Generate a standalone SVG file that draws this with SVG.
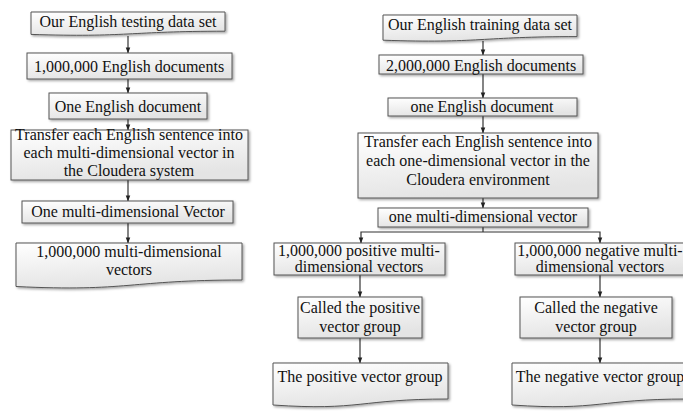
<svg xmlns="http://www.w3.org/2000/svg" width="683" height="411" viewBox="0 0 683 411">
  <defs>
    <linearGradient id="boxFill" x1="0" y1="0" x2="0.3" y2="1">
      <stop offset="0" stop-color="#ffffff"/>
      <stop offset="1" stop-color="#e4e4e4"/>
    </linearGradient>
    <filter id="shadow" x="-10%" y="-20%" width="120%" height="150%">
      <feDropShadow dx="1.5" dy="1.5" stdDeviation="0.8" flood-color="#000" flood-opacity="0.35"/>
    </filter>
    <marker id="arrow" viewBox="0 0 8 8" refX="7.5" refY="4" markerWidth="6" markerHeight="6" orient="auto" markerUnits="userSpaceOnUse">
      <path d="M0,1 L8,4 L0,7 Z" fill="#222"/>
    </marker>
  </defs>
  <style>
    .box { fill: url(#boxFill); stroke: #555; stroke-width: 1; filter: url(#shadow); }
    .lbl { font-family: "Liberation Serif", "Times New Roman", serif; font-size: 16px; fill: #111; text-anchor: middle; }
    .edge { fill: none; stroke: #333; stroke-width: 1.2; }
    .arr { marker-end: url(#arrow); }
  </style>

  <!-- connectors -->
  <g id="connectors">
    <line class="edge arr" x1="128" y1="36" x2="128" y2="53"/>
    <line class="edge arr" x1="128" y1="79" x2="128" y2="93"/>
    <line class="edge arr" x1="128" y1="119" x2="128" y2="130"/>
    <line class="edge arr" x1="128" y1="180" x2="128" y2="201"/>
    <line class="edge arr" x1="128" y1="223" x2="128" y2="243"/>

    <line class="edge arr" x1="483" y1="41" x2="483" y2="55"/>
    <line class="edge arr" x1="483" y1="74" x2="483" y2="98"/>
    <line class="edge arr" x1="483" y1="116" x2="483" y2="133"/>
    <line class="edge arr" x1="483" y1="198" x2="483" y2="208"/>
    <polyline class="edge" points="483,227 483,232"/>
    <polyline class="edge arr" points="483,232 361,232 361,243"/>
    <polyline class="edge arr" points="483,232 600,232 600,243"/>
    <line class="edge arr" x1="360" y1="275" x2="360" y2="297"/>
    <line class="edge arr" x1="600" y1="275" x2="600" y2="297"/>
    <line class="edge arr" x1="360" y1="338" x2="360" y2="363"/>
    <line class="edge arr" x1="600" y1="338" x2="600" y2="363"/>
  </g>

  <!-- testing branch -->
  <g id="test-dataset">
    <path class="box" d="M31,12 H225 V31.2 C128,31.2 128,37.5 31,34.4 Z"/>
    <text class="lbl" x="128" y="27">Our English testing data set</text>
  </g>
  <g id="test-documents">
    <rect class="box" x="27" y="53" width="205" height="26"/>
    <text class="lbl" x="129" y="72">1,000,000 English documents</text>
  </g>
  <g id="test-one-document">
    <rect class="box" x="49" y="93" width="158" height="26"/>
    <text class="lbl" x="128" y="112">One English document</text>
  </g>
  <g id="test-transfer">
    <rect class="box" x="11" y="130" width="237" height="50"/>
    <text class="lbl" x="129" y="140">Transfer each English sentence into</text>
    <text class="lbl" x="129" y="158">each multi-dimensional vector in</text>
    <text class="lbl" x="129" y="176">the Cloudera system</text>
  </g>
  <g id="test-one-vector">
    <rect class="box" x="22" y="201" width="211" height="22"/>
    <text class="lbl" x="128" y="217">One multi-dimensional Vector</text>
  </g>
  <g id="test-vectors">
    <path class="box" d="M16,243 H242 V280 C129,280 129,292 16,286.5 Z"/>
    <text class="lbl" x="129" y="257">1,000,000 multi-dimensional</text>
    <text class="lbl" x="129" y="275">vectors</text>
  </g>

  <!-- training branch -->
  <g id="train-dataset">
    <path class="box" d="M383,15 H577 V36.6 C480,36.6 480,43.5 383,40.2 Z"/>
    <text class="lbl" x="480" y="30">Our English training data set</text>
  </g>
  <g id="train-documents">
    <rect class="box" x="379" y="55" width="204" height="19"/>
    <text class="lbl" x="481" y="70.5">2,000,000 English documents</text>
  </g>
  <g id="train-one-document">
    <rect class="box" x="388" y="98" width="189" height="18"/>
    <text class="lbl" x="482" y="112">one English document</text>
  </g>
  <g id="train-transfer">
    <rect class="box" x="358" y="133" width="240" height="65"/>
    <text class="lbl" x="478" y="147">Transfer each English sentence into</text>
    <text class="lbl" x="478" y="166">each one-dimensional vector in the</text>
    <text class="lbl" x="478" y="185">Cloudera environment</text>
  </g>
  <g id="train-one-vector">
    <rect class="box" x="378" y="208" width="210" height="19"/>
    <text class="lbl" x="483" y="222">one multi-dimensional vector</text>
  </g>
  <g id="positive-vectors">
    <rect class="box" x="274" y="243" width="171" height="32"/>
    <text class="lbl" x="359" y="256">1,000,000 positive multi-</text>
    <text class="lbl" x="359" y="272">dimensional vectors</text>
  </g>
  <g id="negative-vectors">
    <rect class="box" x="515" y="243" width="171" height="32"/>
    <text class="lbl" x="600" y="256">1,000,000 negative multi-</text>
    <text class="lbl" x="600" y="272">dimensional vectors</text>
  </g>
  <g id="positive-called">
    <rect class="box" x="298" y="297" width="124" height="41"/>
    <text class="lbl" x="360" y="313">Called the positive</text>
    <text class="lbl" x="360" y="332">vector group</text>
  </g>
  <g id="negative-called">
    <rect class="box" x="520" y="297" width="152" height="41"/>
    <text class="lbl" x="596" y="313">Called the negative</text>
    <text class="lbl" x="596" y="332">vector group</text>
  </g>
  <g id="positive-group">
    <path class="box" d="M273,363 H448 V399 C360,399 360,411 273,405 Z"/>
    <text class="lbl" x="360" y="382">The positive vector group</text>
  </g>
  <g id="negative-group">
    <path class="box" d="M512,363 H687 V399 C599,399 599,411 512,405 Z"/>
    <text class="lbl" x="600" y="382">The negative vector group</text>
  </g>
</svg>
